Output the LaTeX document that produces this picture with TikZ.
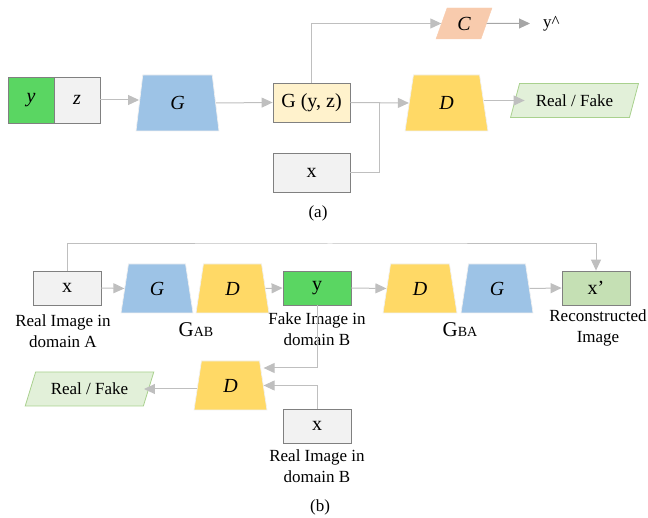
\documentclass[tikz,border=0pt]{standalone}
\usepackage{fontspec}
\setmainfont{Liberation Serif}
\usetikzlibrary{shapes.geometric,arrows.meta}
\definecolor{ygreen}{HTML}{5AD662}
\definecolor{lgray}{HTML}{F2F2F2}
\definecolor{bgray}{HTML}{808080}
\definecolor{gblue}{HTML}{9DC3E6}
\definecolor{dyel}{HTML}{FFD966}
\definecolor{cream}{HTML}{FFF2CC}
\definecolor{corange}{HTML}{F8CBAD}
\definecolor{rfgreen}{HTML}{E2F0D9}
\definecolor{rfline}{HTML}{A9D18E}
\definecolor{xpgreen}{HTML}{C5E0B4}
\definecolor{lineg}{HTML}{BFBFBF}
\tikzset{
  txt/.style={font=\fontsize{17}{21}\selectfont},
  boxtxt/.style={font=\fontsize{20}{24}\selectfont},
  box/.style={draw=bgray, line width=0.8pt, inner sep=0pt, boxtxt},
  bigbox/.style={box, minimum width=77pt, minimum height=39pt},
  smallbox/.style={box, minimum width=68pt, minimum height=34pt},
  trap/.style={trapezium, trapezium stretches=true, draw=white!88!gray, line width=0.7pt, inner sep=0pt,
    font=\fontsize{20}{24}\selectfont\itshape},
  para/.style={trapezium, trapezium stretches=true, inner sep=0pt, txt},
  conn/.style={draw=lineg, line width=1pt, -{Triangle[length=11pt,width=10pt]}},
  plain/.style={draw=lineg, line width=1pt},
  lbl/.style={txt, align=center, inner sep=0pt},
  glbl/.style={font=\fontsize{21}{24}\selectfont, inner sep=0pt},
}
\begin{document}
\begin{tikzpicture}[x=1pt,y=-1pt]
\useasboundingbox (0,0) rectangle (648,518);
% ---------- (a)
\node[box, fill=ygreen, minimum width=46pt, minimum height=46pt, font=\fontsize{20}{24}\selectfont\itshape] (ya) at (31,100) {y};
\node[box, fill=lgray, minimum width=46pt, minimum height=46pt, font=\fontsize{20}{24}\selectfont\itshape] (za) at (77,100) {z};
\node[trap, fill=gblue, minimum width=83pt, minimum height=56pt,
  trapezium left angle=84, trapezium right angle=84] (Ga) at (177.5,103) {G};
\node[bigbox, fill=cream] (Gyz) at (311.5,102.5) {G (y, z)};
\node[bigbox, fill=lgray] (xa) at (311.5,172.5) {x};
\node[para, fill=corange, draw=corange, minimum width=56pt, minimum height=31pt,
  trapezium left angle=72, trapezium right angle=108, font=\fontsize{20}{24}\selectfont\itshape] (C) at (464,23.5) {C};
\node[txt, inner sep=0pt, anchor=west] (yhat) at (543,23.5) {y\^{}};
\node[trap, fill=dyel, minimum width=83pt, minimum height=56pt,
  trapezium left angle=82, trapezium right angle=82] (Da) at (446.5,103) {D};
\node[para, fill=rfgreen, draw=rfline, line width=0.8pt, minimum width=129pt, minimum height=34pt,
  trapezium left angle=62, trapezium right angle=118] (RFa) at (574.5,100.5) {Real / Fake};
\coordinate (ja) at (379,103);
\draw[conn] (za.east) -- (za.east -| Ga.west);
\draw[conn] (Ga.east) -- (Gyz.west);
\draw[conn] (Gyz.north) |- (C.west);
\draw[conn, draw=gray!70] (C.east) -- ([xshift=-13pt]yhat.west);
\draw[conn] (Gyz.east) -- (Da.west);
\draw[plain] (xa.east) -| (ja);
\draw[conn] (RFa.west -| Da.east) -- ([xshift=10pt]RFa.west);
\node[txt] (la) at (318,213) {(a)};
% ---------- (b)
\node[smallbox, fill=lgray] (xA) at (67,288) {x};
\node[trap, fill=gblue, minimum width=72pt, minimum height=49pt,
  trapezium left angle=82, trapezium right angle=82] (GAB) at (157,288.5) {G};
\node[trap, fill=dyel, minimum width=73pt, minimum height=49pt,
  trapezium left angle=82, trapezium right angle=82] (DAB) at (232.5,288.5) {D};
\node[smallbox, fill=ygreen] (yB) at (317,288) {y};
\node[trap, fill=dyel, minimum width=74pt, minimum height=49pt,
  trapezium left angle=82, trapezium right angle=82] (DBA) at (420,288.5) {D};
\node[trap, fill=gblue, minimum width=72pt, minimum height=49pt,
  trapezium left angle=82, trapezium right angle=82] (GBA) at (497,288.5) {G};
\node[smallbox, fill=xpgreen] (xp) at (596,288) {x’};
\node[trap, fill=dyel, minimum width=73pt, minimum height=49pt,
  trapezium left angle=82, trapezium right angle=82] (D3) at (230.5,385.5) {D};
\node[smallbox, fill=lgray] (xB) at (317,426) {x};
\node[para, fill=rfgreen, draw=rfline, line width=0.8pt, minimum width=129pt, minimum height=34pt,
  trapezium left angle=58, trapezium right angle=122] (RFb) at (89.5,389) {Real / Fake};
\node[lbl] (lA) at (63,331) {Real Image in\\domain A};
\node[lbl] (lfB) at (317,329) {Fake Image in\\domain B};
\node[lbl] (lrec) at (598,328) {Reconstructed\\Image};
\node[lbl] (lrB) at (317,466) {Real Image in\\domain B};
\node[glbl] (gab) at (196,330) {G{\fontsize{14}{16}\selectfont AB}};
\node[glbl] (gba) at (460,330) {G{\fontsize{14}{16}\selectfont BA}};
\coordinate (tb) at (330,244);
\draw[conn] (xA.north) |- (tb) -| (xp.north);
\draw[conn] (xA.east) -- (GAB.west);
\draw[conn] (DAB.east) -- (yB.west);
\draw[conn] (yB.east) -- (DBA.west);
\draw[conn] (GBA.east) -- (xp.west);
\draw[conn] (yB.south) |- ([yshift=17.5pt]D3.east);
\draw[conn] (xB.north) |- (D3.east);
\draw[conn] (RFb.east -| D3.west) -- ([xshift=-5pt]RFb.east);
\node[txt] (lb) at (320,507) {(b)};
\end{tikzpicture}
\end{document}
